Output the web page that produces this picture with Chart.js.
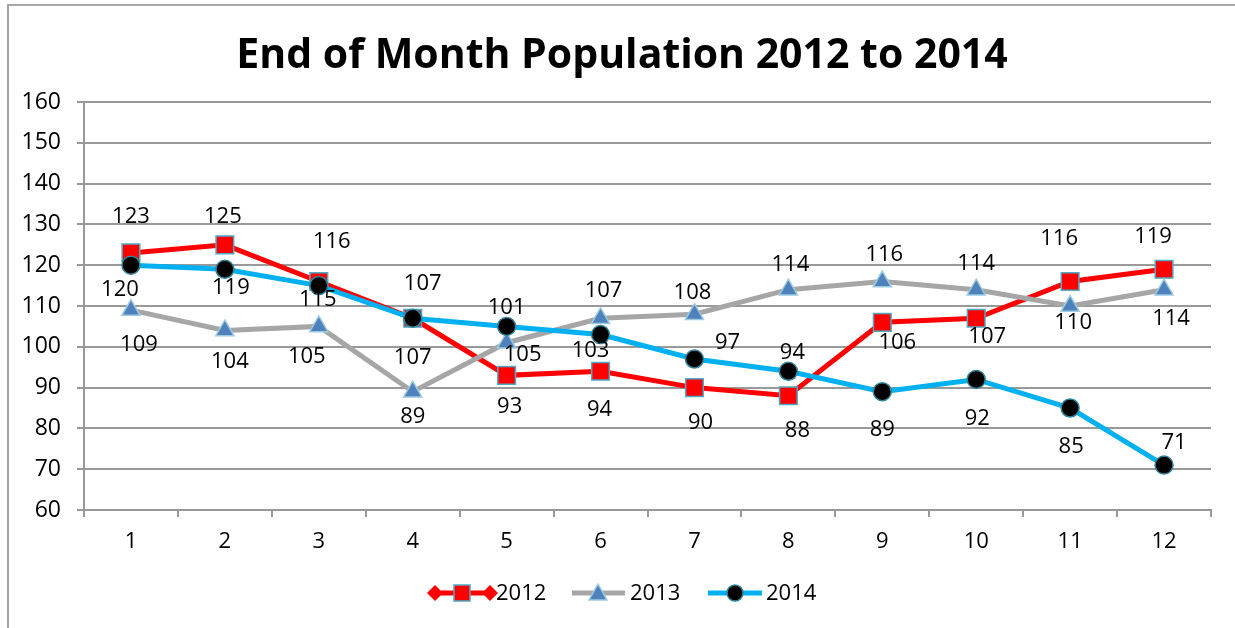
<!DOCTYPE html>
<html>
<head>
<meta charset="utf-8">
<title>End of Month Population 2012 to 2014</title>
<script src="https://cdn.jsdelivr.net/npm/chart.js@4"></script>
<style>
  html, body { margin: 0; padding: 0; background: #ffffff; }
  #chart { display: block; }
</style>
</head>
<body>
<canvas id="chart" width="1235" height="628"></canvas>
<script>
// ---------- data ----------
const months = ["1", "2", "3", "4", "5", "6", "7", "8", "9", "10", "11", "12"];
const pop2012 = [123, 125, 116, 107, 93, 94, 90, 88, 106, 107, 116, 119];
const pop2013 = [109, 104, 105, 89, 101, 107, 108, 114, 116, 114, 110, 114];
const pop2014 = [120, 119, 115, 107, 105, 103, 97, 94, 89, 92, 85, 71];
const seriesNames = ["2012", "2013", "2014"];
const yMin = 60;
const yMax = 160;
const yStep = 10;

// ---------- data label placement (dx, dy from the point) ----------
const labelOffsets = [
  [[0, -36], [-2, -28], [13, -40], [10, -35], [3, 31], [-1, 38], [6, 35], [9, 35], [15, 20], [11, 18], [-11, -43], [-11, -33]],
  [[8, 35], [5, 31], [-12, 30], [0, 25], [0, -35], [3, -28], [-2, -21], [2, -25], [2, -27], [0, -26], [3, 17], [7, 29]],
  [[-11, 25], [6, 18], [-1, 14], [0, 39], [16, 28], [-10, 16], [33, -16], [4, -19], [0, 38], [1, 39], [1, 39], [10, -22]]
];

const FONT = "'Open Sans', 'Noto Sans', sans-serif";
const GRID = "#999999";

// white background + outer frame
const frame = {
  id: "frame",
  beforeDraw(chart) {
    const ctx = chart.ctx;
    ctx.save();
    ctx.fillStyle = "#ffffff";
    ctx.fillRect(0, 0, chart.width, chart.height);
    ctx.strokeStyle = "#a6a6a6";
    ctx.lineWidth = 2;
    ctx.strokeRect(8, 5, chart.width + 20, chart.height + 20);
    ctx.restore();
  }
};

// title, data labels, legend
const extras = {
  id: "extras",
  afterDraw(chart) {
    const ctx = chart.ctx;
    ctx.save();

    // title
    ctx.fillStyle = "#000000";
    ctx.font = "bold 41px " + FONT;
    ctx.textAlign = "center";
    ctx.textBaseline = "middle";
    ctx.fillText("End of Month Population 2012 to 2014", 622, 56);

    // data labels
    ctx.font = "22px " + FONT;
    chart.data.datasets.forEach((ds, i) => {
      const meta = chart.getDatasetMeta(i);
      meta.data.forEach((pt, j) => {
        const off = labelOffsets[i][j];
        ctx.fillText(String(ds.data[j]), pt.x + off[0], pt.y + off[1]);
      });
    });

    // legend
    const ly = 593;
    ctx.textAlign = "left";
    ctx.font = "22px " + FONT;

    // 2012
    ctx.strokeStyle = "#ff0000";
    ctx.lineWidth = 5;
    ctx.beginPath(); ctx.moveTo(435, ly); ctx.lineTo(490, ly); ctx.stroke();
    ctx.fillStyle = "#ff0000";
    [435, 490].forEach(cx => {
      ctx.beginPath();
      ctx.moveTo(cx - 8, ly); ctx.lineTo(cx, ly - 8); ctx.lineTo(cx + 8, ly); ctx.lineTo(cx, ly + 8);
      ctx.closePath(); ctx.fill();
    });
    ctx.fillRect(454, ly - 8, 16, 16);
    ctx.strokeStyle = "#4bacc6"; ctx.lineWidth = 1.5;
    ctx.strokeRect(454, ly - 8, 16, 16);
    ctx.fillStyle = "#000000";
    ctx.fillText(seriesNames[0], 496, ly + 1);

    // 2013
    ctx.strokeStyle = "#a6a6a6"; ctx.lineWidth = 5;
    ctx.beginPath(); ctx.moveTo(572, ly); ctx.lineTo(625, ly); ctx.stroke();
    ctx.fillStyle = "#4f81bd";
    ctx.beginPath();
    ctx.moveTo(598, ly - 9); ctx.lineTo(607, ly + 7); ctx.lineTo(589, ly + 7);
    ctx.closePath(); ctx.fill();
    ctx.strokeStyle = "#9ccae0"; ctx.lineWidth = 1.5; ctx.stroke();
    ctx.fillStyle = "#000000";
    ctx.fillText(seriesNames[1], 630, ly + 1);

    // 2014
    ctx.strokeStyle = "#00b0f0"; ctx.lineWidth = 5;
    ctx.beginPath(); ctx.moveTo(708, ly); ctx.lineTo(762, ly); ctx.stroke();
    ctx.fillStyle = "#000000";
    ctx.beginPath(); ctx.arc(735, ly, 8, 0, Math.PI * 2); ctx.fill();
    ctx.strokeStyle = "#31859c"; ctx.lineWidth = 1.5; ctx.stroke();
    ctx.fillStyle = "#000000";
    ctx.fillText(seriesNames[2], 766, ly + 1);

    ctx.restore();
  }
};

new Chart(document.getElementById("chart"), {
  type: "line",
  data: {
    labels: months,
    datasets: [
      {
        label: seriesNames[0],
        data: pop2012,
        borderColor: "#ff0000",
        borderWidth: 5,
        pointStyle: "rect",
        pointRadius: 12.5,
        pointBackgroundColor: "#ff0000",
        pointBorderColor: "#4bacc6",
        pointBorderWidth: 1.5,
        order: 2
      },
      {
        label: seriesNames[1],
        data: pop2013,
        borderColor: "#a6a6a6",
        borderWidth: 5,
        pointStyle: "triangle",
        pointRadius: 10.5,
        pointBackgroundColor: "#4f81bd",
        pointBorderColor: "#9ccae0",
        pointBorderWidth: 1.5,
        order: 1
      },
      {
        label: seriesNames[2],
        data: pop2014,
        borderColor: "#00b0f0",
        borderWidth: 5,
        pointStyle: "circle",
        pointRadius: 9,
        pointBackgroundColor: "#000000",
        pointBorderColor: "#31859c",
        pointBorderWidth: 1.5,
        order: 0
      }
    ]
  },
  options: {
    responsive: false,
    animation: false,
    events: [],
    layout: {
      padding: { left: 0, top: 102, right: 24, bottom: 0 }
    },
    plugins: {
      legend: { display: false },
      title: { display: false },
      tooltip: { enabled: false }
    },
    scales: {
      x: {
        offset: true,
        afterFit(scale) { scale.height = 118; },
        grid: {
          offset: true,
          drawOnChartArea: false,
          drawTicks: true,
          tickLength: 7,
          color: GRID,
          lineWidth: 2
        },
        border: { color: GRID, width: 2 },
        ticks: {
          color: "#000000",
          font: { family: FONT, size: 22 },
          padding: 12,
          maxRotation: 0
        }
      },
      y: {
        min: yMin,
        max: yMax,
        afterFit(scale) { scale.width = 84; },
        grid: {
          color: GRID,
          lineWidth: 2,
          drawTicks: true,
          tickLength: 7
        },
        border: { color: GRID, width: 2 },
        ticks: {
          stepSize: yStep,
          color: "#000000",
          font: { family: FONT, size: 23 },
          padding: 16
        }
      }
    }
  },
  plugins: [frame, extras]
});
</script>
</body>
</html>
